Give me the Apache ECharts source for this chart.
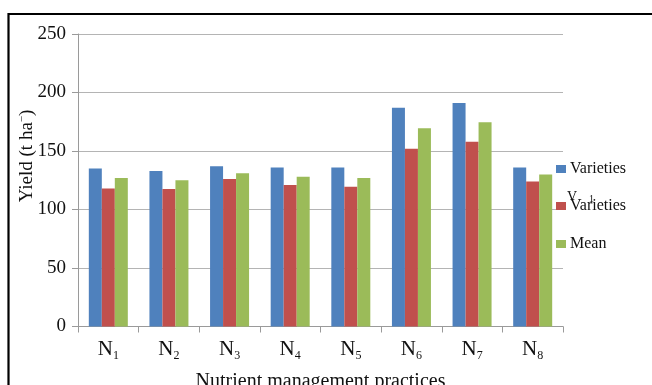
<!DOCTYPE html>
<html><head><meta charset="utf-8">
<script src="https://cdn.jsdelivr.net/npm/echarts@6/dist/echarts.min.js"></script>
<style>html,body{margin:0;padding:0;background:#fff}#c{width:652px;height:385px}</style>
</head><body><div id="c"></div>
<script>
const categories = ['1','2','3','4','5','6','7','8'];
const seriesNames = ['Varieties V1','Varieties V2','Mean'];
const legendLabels = ['Varieties','Varieties','Mean'];
const varietyV1 = [135,133,137,136,136,187,191,136];
const varietyV2 = [118,117.5,126,121,119.5,152,158,124];
const meanVals = [127,125,131,128,127,169.5,174.5,130];
const yTicks = {min:0,max:250,interval:50};
const colors = ['#4F81BD','#C0504D','#9BBB59'];
const serif = "'Liberation Serif', 'Times New Roman', serif";

const chart = echarts.init(document.getElementById('c'));
const legendTops = [156,193,231];
chart.setOption({
  animation:false,
  grid:{left:78,right:89,top:34,bottom:58.5,containLabel:false,outerBoundsMode:'none'},
  xAxis:{type:'category',data:categories,
    axisLine:{lineStyle:{color:'#9a9a9a'}},
    axisTick:{show:true,length:6,lineStyle:{color:'#9a9a9a'}},
    axisLabel:{interval:0,margin:11,color:'#111',fontFamily:serif,fontSize:21,
      formatter:v=>'N{s|'+v+'}',
      rich:{s:{fontSize:12,fontFamily:serif,color:'#111',verticalAlign:'bottom',padding:[12,0,0,0]}}},
    name:'Nutrient management practices',nameLocation:'middle',nameGap:45,
    nameTextStyle:{fontFamily:serif,fontSize:20,color:'#111'}},
  yAxis:{type:'value',min:yTicks.min,max:yTicks.max,interval:yTicks.interval,
    axisLine:{show:true,lineStyle:{color:'#9a9a9a'}},
    axisTick:{show:true,length:6,lineStyle:{color:'#9a9a9a'}},
    splitLine:{lineStyle:{color:'#b4b4b4'}},
    axisLabel:{margin:12,color:'#111',fontFamily:serif,fontSize:19}},
  legend:seriesNames.map((n,i)=>({data:[n],orient:'vertical',left:551,top:legendTops[i],
    itemWidth:10,itemHeight:8,itemGap:0,icon:'rect',
    formatter:()=>legendLabels[i],
    textStyle:{fontFamily:serif,fontSize:16,color:'#111',padding:[0,0,0,-1]}})),
  series:[
    {name:seriesNames[0],type:'bar',data:varietyV1,barWidth:13,barGap:'0%',itemStyle:{color:colors[0]}},
    {name:seriesNames[1],type:'bar',data:varietyV2,barWidth:13,barGap:'0%',itemStyle:{color:colors[1]}},
    {name:seriesNames[2],type:'bar',data:meanVals,barWidth:13,barGap:'0%',itemStyle:{color:colors[2]}}
  ],
  graphic:[
    {type:'rect',shape:{x:8.5,y:14,width:700,height:500},style:{fill:null,stroke:'#000',lineWidth:2.2},z:-1},
    {type:'text',x:27,y:156,rotation:Math.PI/2,style:{text:'Yield (t ha{p|−})',fontFamily:serif,fontSize:19,fill:'#111',
      align:'center',verticalAlign:'middle',rich:{p:{fontSize:11,fontFamily:serif,verticalAlign:'top',padding:[0,0,10,0]}}}},
    {type:'text',x:567,y:190,style:{text:'V',fontFamily:serif,fontSize:14,fill:'#111'}},
    {type:'text',x:589,y:194,style:{text:'1',fontFamily:serif,fontSize:10,fill:'#111'}}
  ]
});
</script></body></html>
